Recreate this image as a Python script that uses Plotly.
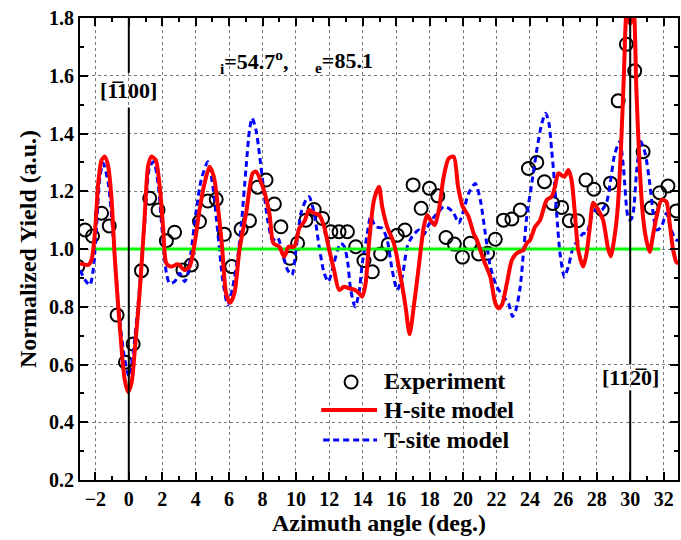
import plotly.graph_objects as go

FONT = "Liberation Serif"

# Experimental data (circles)
exp_x = [-3.05, -2.62, -2.17, -1.63, -1.17, -0.70, -0.20, 0.26, 0.76, 1.25,
         1.75, 2.25, 2.74, 3.24, 3.74, 4.23, 4.73, 5.23, 5.72, 6.16,
         6.72, 7.22, 7.71, 8.21, 8.71, 9.10, 9.64, 10.10, 10.60, 11.09,
         11.59, 12.09, 12.58, 13.08, 13.58, 14.07, 14.57, 15.07, 15.52, 16.06,
         16.52, 17.01, 17.49, 17.99, 18.49, 18.98, 19.48, 19.96, 20.43, 20.93,
         21.47, 21.93, 22.42, 22.92, 23.42, 23.91, 24.41, 24.87, 25.36, 25.90,
         26.36, 26.85, 27.35, 27.83, 28.32, 28.82, 29.28, 29.77, 30.27, 30.77,
         31.26, 31.76, 32.26, 32.76]
exp_y = [0.940, 1.066, 1.045, 1.124, 1.080, 0.771, 0.608, 0.671, 0.925, 1.176,
         1.135, 1.029, 1.058, 0.927, 0.945, 1.095, 1.166, 1.172, 1.051, 0.939,
         1.069, 1.098, 1.214, 1.239, 1.156, 1.077, 0.968, 1.020, 1.100, 1.137,
         1.106, 1.060, 1.060, 1.060, 1.008, 0.960, 0.921, 0.983, 1.016, 1.048,
         1.066, 1.222, 1.141, 1.210, 1.184, 1.040, 1.017, 0.972, 1.020, 0.983,
         0.985, 1.034, 1.100, 1.104, 1.135, 1.279, 1.300, 1.233, 1.158, 1.144,
         1.098, 1.098, 1.239, 1.207, 1.137, 1.228, 1.513, 1.709, 1.617, 1.337,
         1.143, 1.195, 1.218, 1.132]

# H-site model (red solid)
h_x = [-2.92, -2.43, -2.23, -2.03, -1.83, -1.63, -1.43, -1.23, -1.03, -0.83,
       -0.54, -0.24, -0.04, 0.16, 0.36, 0.66, 0.95, 1.15, 1.35, 1.61,
       1.85, 2.05, 2.25, 2.54, 2.94, 3.34, 3.64, 3.94, 4.23, 4.53,
       4.83, 5.09, 5.33, 5.58, 5.82, 6.06, 6.32, 6.62, 7.02, 7.41,
       7.61, 8.01, 8.41, 8.65, 9.00, 9.30, 9.56, 9.90, 10.20, 10.50,
       10.79, 11.09, 11.39, 11.69, 11.99, 12.28, 12.58, 12.88, 13.18, 13.54,
       13.77, 13.97, 14.17, 14.37, 14.67, 14.97, 15.16, 15.46, 15.86, 16.26,
       16.56, 16.80, 17.05, 17.35, 17.65, 17.85, 18.05, 18.31, 18.55, 18.84, 19.14,
       19.44, 19.70, 19.96, 20.33, 20.63, 20.83, 21.23, 21.63, 21.93, 22.12, 22.32, 22.62,
       22.92, 23.21, 23.61, 23.81, 24.01, 24.31, 24.61, 25.00, 25.30, 25.50,
       25.70, 26.06, 26.30, 26.49, 26.69, 26.89, 27.19, 27.39, 27.59, 27.79,
       28.09, 28.38, 28.68, 28.84, 29.08, 29.25, 29.45, 29.62, 29.80, 30.00,
       30.20, 30.37, 30.57, 30.77, 30.97, 31.17, 31.37, 31.57, 31.87, 32.16,
       32.36, 32.56, 32.76, 32.90]
h_y = [0.950, 0.945, 0.962, 1.054, 1.227, 1.308, 1.320, 1.285, 1.170, 0.962,
       0.731, 0.546, 0.505, 0.535, 0.650, 0.858, 1.112, 1.285, 1.320, 1.308,
       1.216, 1.077, 0.950, 0.939, 0.947, 0.927, 0.939, 1.020, 1.135, 1.227,
       1.285, 1.250, 1.147, 1.008, 0.847, 0.814, 0.847, 0.997, 1.124, 1.262,
       1.268, 1.216, 1.124, 1.020, 1.008, 0.973, 1.008, 1.008, 1.072, 1.095,
       1.135, 1.124, 1.118, 1.077, 0.997, 0.927, 0.858, 0.869, 0.864, 0.858,
       0.847, 0.835, 0.881, 1.020, 1.170, 1.216, 1.147, 1.077, 1.020, 0.904,
       0.800, 0.705, 0.800, 0.939, 1.077, 1.118, 1.100, 1.083, 1.135, 1.250, 1.314,
       1.320, 1.216, 1.150, 1.112, 1.054, 1.031, 0.962, 0.904, 0.812, 0.795, 0.806, 0.881,
       0.962, 0.985, 0.997, 1.020, 1.031, 1.077, 1.100, 1.170, 1.181, 1.216,
       1.262, 1.250, 1.274, 1.239, 1.124, 0.997, 0.939, 0.985, 1.077, 1.160,
       1.135, 1.100, 1.000, 0.975, 1.050, 1.140, 1.350, 1.600, 1.830, 1.780,
       1.830, 1.550, 1.280, 1.110, 1.030, 0.990, 1.050, 1.110, 1.170, 1.164,
       1.090, 1.000, 0.955, 0.950]

# T-site model (blue dashed)
t_x = [-2.92, -2.62, -2.33, -2.13, -1.93, -1.73, -1.53, -1.23, -1.03, -0.83,
       -0.54, -0.24, 0.02, 0.26, 0.56, 0.95, 1.25, 1.49, 1.75, 2.01,
       2.25, 2.44, 2.74, 3.04, 3.34, 3.54, 3.74, 4.04, 4.33, 4.73,
       5.03, 5.33, 5.62, 5.92, 6.22, 6.52, 6.72, 7.02, 7.22, 7.38,
       7.61, 7.81, 8.05, 8.31, 8.61, 8.90, 9.20, 9.50, 9.76, 10.00,
       10.30, 10.60, 10.79, 11.09, 11.39, 11.69, 11.94, 12.18, 12.48, 12.68,
       12.88, 13.08, 13.28, 13.54, 13.77, 13.97, 14.27, 14.47, 14.77, 15.16,
       15.46, 15.76, 16.06, 16.36, 16.66, 16.95, 17.35, 17.65, 17.95, 18.25,
       18.55, 18.84, 19.14, 19.44, 19.74, 20.04, 20.33, 20.73, 21.03, 21.33,
       21.63, 22.02, 22.42, 22.72, 22.96, 23.16, 23.42, 23.61, 23.81, 24.11,
       24.41, 24.71, 24.94, 25.14, 25.30, 25.46, 25.60, 25.80, 26.06, 26.30,
       26.60, 26.89, 27.19, 27.39, 27.69, 27.98, 28.28, 28.58, 28.80, 29.08,
       29.38, 29.60, 29.85, 30.00, 30.15, 30.40, 30.63, 30.90, 31.17, 31.37,
       31.57, 31.87, 32.16, 32.46, 32.76, 32.90]
t_y = [0.927, 0.893, 0.875, 0.927, 1.077, 1.250, 1.297, 1.227, 1.112, 0.962,
       0.754, 0.616, 0.558, 0.639, 0.812, 1.089, 1.285, 1.302, 1.227, 1.054,
       0.916, 0.881, 0.887, 0.916, 0.887, 0.916, 0.997, 1.135, 1.239, 1.302,
       1.216, 1.054, 0.893, 0.806, 0.869, 0.973, 1.077, 1.285, 1.412, 1.453,
       1.412, 1.331, 1.216, 1.100, 1.031, 1.040, 0.985, 0.927, 0.910, 0.997,
       1.124, 1.170, 1.181, 1.124, 1.008, 0.916, 0.887, 0.927, 0.995, 1.020,
       1.010, 0.962, 0.858, 0.800, 0.847, 0.950, 1.054, 1.112, 1.077, 1.072,
       1.031, 0.927, 0.858, 0.904, 1.008, 1.043, 1.066, 1.050, 1.085, 1.110,
       1.129, 1.147, 1.141, 1.124, 1.090, 1.135, 1.193, 1.227, 1.170, 1.054,
       0.939, 0.869, 0.835, 0.812, 0.766, 0.789, 0.869, 0.985, 1.112, 1.227,
       1.343, 1.435, 1.470, 1.435, 1.343, 1.239, 1.124, 0.985, 0.904, 0.939,
       1.008, 1.031, 1.054, 1.054, 1.112, 1.141, 1.135, 1.160, 1.227, 1.330,
       1.372, 1.280, 1.115, 1.100, 1.115, 1.280, 1.372, 1.330, 1.227, 1.125,
       1.066, 1.077, 1.124, 1.066, 1.031, 1.030]

# Reference (unity) line
ref_x = [-2.0, 31.8]
ref_y = [1.0, 1.0]

# Crystal direction markers
dir_x = [0, 30]
dir_labels = ["[1\u0305100]", "[112\u03050]"]

legend_names = ["Experiment", "H-site model", "T-site model"]

fig = go.Figure()
fig.add_trace(go.Scatter(x=exp_x, y=exp_y, mode="markers", name=legend_names[0],
                         marker=dict(symbol="circle-open", size=13, color="black",
                                     line=dict(width=2)),
                         showlegend=False))
fig.add_trace(go.Scatter(x=t_x, y=t_y, mode="lines", name=legend_names[2],
                         line=dict(color="#0000ff", width=3, dash="6px,4px",
                                   shape="spline", smoothing=0.7),
                         showlegend=False))
fig.add_trace(go.Scatter(x=ref_x, y=ref_y, mode="lines",
                         line=dict(color="#00ff00", width=3), showlegend=False))
fig.add_trace(go.Scatter(x=h_x, y=h_y, mode="lines", name=legend_names[1],
                         line=dict(color="#ff0000", width=4,
                                   shape="spline", smoothing=0.7),
                         showlegend=False))

shapes = []
# vertical direction lines with gaps for the labels
shapes.append(dict(type="line", xref="x", yref="y", x0=dir_x[0], x1=dir_x[0],
                   y0=1.61, y1=1.8, line=dict(color="black", width=2)))
shapes.append(dict(type="line", xref="x", yref="y", x0=dir_x[0], x1=dir_x[0],
                   y0=0.2, y1=1.49, line=dict(color="black", width=2)))
shapes.append(dict(type="line", xref="x", yref="y", x0=dir_x[1], x1=dir_x[1],
                   y0=0.60, y1=1.8, line=dict(color="black", width=2)))
shapes.append(dict(type="line", xref="x", yref="y", x0=dir_x[1], x1=dir_x[1],
                   y0=0.2, y1=0.51, line=dict(color="black", width=2)))

# manual legend (paper coordinates)
def px2paper_x(px):
    return (px - 80) / 600.0

def px2paper_y(py):
    return (480 - py) / 462.0

shapes.append(dict(type="circle", xref="paper", yref="paper",
                   xsizemode="pixel", ysizemode="pixel",
                   xanchor=px2paper_x(352), yanchor=px2paper_y(382),
                   x0=-6.5, x1=6.5, y0=-6.5, y1=6.5,
                   line=dict(color="black", width=2)))
shapes.append(dict(type="line", xref="paper", yref="paper",
                   x0=px2paper_x(322), x1=px2paper_x(378),
                   y0=px2paper_y(410), y1=px2paper_y(410),
                   line=dict(color="#ff0000", width=4)))
shapes.append(dict(type="line", xref="paper", yref="paper",
                   x0=px2paper_x(324), x1=px2paper_x(378),
                   y0=px2paper_y(440), y1=px2paper_y(440),
                   line=dict(color="#0000ff", width=3, dash="6px,4px")))

annotations = []
for py, name in zip([381, 410, 440], legend_names):
    annotations.append(dict(xref="paper", yref="paper", x=px2paper_x(383),
                            y=px2paper_y(py), xanchor="left", yanchor="middle",
                            text=name, showarrow=False,
                            font=dict(family=FONT, size=24, color="black", weight="bold")))

annotations.append(dict(xref="x", yref="y", x=dir_x[0], y=1.55, text=dir_labels[0],
                        showarrow=False, xanchor="center", yanchor="middle",
                        font=dict(family=FONT, size=22, color="black", weight="bold")))
annotations.append(dict(xref="x", yref="y", x=dir_x[1], y=0.555, text=dir_labels[1],
                        showarrow=False, xanchor="center", yanchor="middle",
                        font=dict(family=FONT, size=22, color="black", weight="bold")))

annotations.append(dict(xref="x", yref="y", x=5.35, y=1.648,
                        text="<sub>i</sub>=54.7<sup>o</sup>,",
                        showarrow=False, xanchor="left", yanchor="middle",
                        font=dict(family=FONT, size=22, color="black", weight="bold")))
annotations.append(dict(xref="x", yref="y", x=11.05, y=1.648,
                        text="<sub>e</sub>=85.1",
                        showarrow=False, xanchor="left", yanchor="middle",
                        font=dict(family=FONT, size=22, color="black", weight="bold")))

axis_common = dict(ticks="inside", ticklen=8, tickwidth=2, tickcolor="black",
                   showline=True, linewidth=2, linecolor="black", mirror="ticks",
                   showgrid=True, gridcolor="#777777", griddash="dot", gridwidth=1,
                   zeroline=False)

fig.update_layout(
    width=681, height=540,
    margin=dict(l=80, r=1, t=18, b=60),
    paper_bgcolor="white", plot_bgcolor="white",
    showlegend=False,
    shapes=shapes, annotations=annotations,
    xaxis=dict(range=[-2.92, 32.86], tick0=0, dtick=2,
               minor=dict(dtick=1, ticks="inside", ticklen=4, tickwidth=2,
                          tickcolor="black", showgrid=False),
               tickfont=dict(family=FONT, size=20, color="black", weight="bold"),
               title=dict(text="Azimuth angle (deg.)", standoff=4,
                          font=dict(family=FONT, size=24, color="black", weight="bold")),
               **axis_common),
    yaxis=dict(range=[0.2, 1.8], tick0=0.2, dtick=0.2, tickformat=".1f",
               minor=dict(dtick=0.1, ticks="inside", ticklen=4, tickwidth=2,
                          tickcolor="black", showgrid=False),
               tickfont=dict(family=FONT, size=20, color="black", weight="bold"),
               title=dict(text="Normalized Yield (a.u.)", standoff=6,
                          font=dict(family=FONT, size=24, color="black", weight="bold")),
               **axis_common),
)

fig.write_html("out.html")
